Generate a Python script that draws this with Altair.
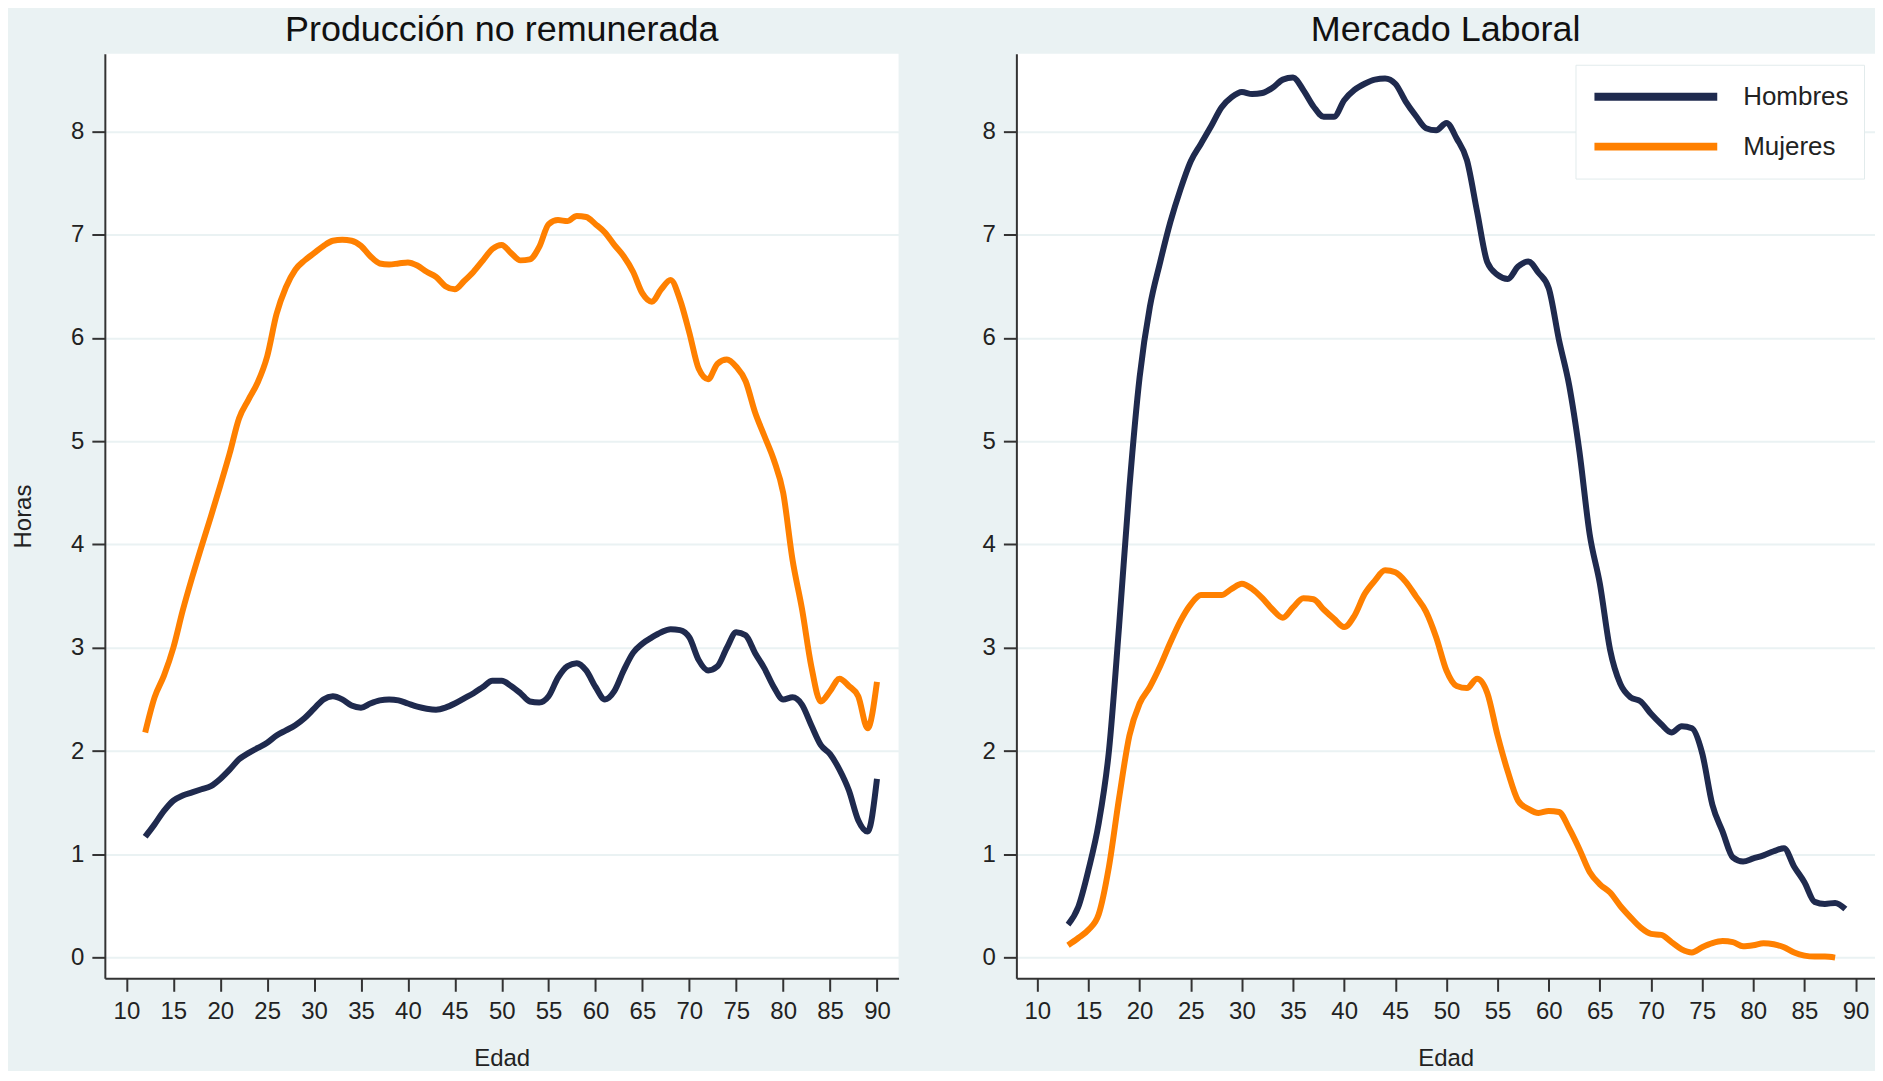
import altair as alt
import pandas as pd

# ---------------- data ----------------
ages_prod = list(range(12, 91))
prod_hombres = [1.17, 1.29, 1.42, 1.52, 1.57, 1.60, 1.63, 1.66, 1.73, 1.82,
                1.92, 1.98, 2.03, 2.08, 2.15, 2.20, 2.25, 2.32, 2.41, 2.50,
                2.53, 2.50, 2.44, 2.42, 2.46, 2.49, 2.50, 2.49, 2.46, 2.43,
                2.41, 2.40, 2.42, 2.46, 2.51, 2.56, 2.62, 2.68, 2.68, 2.63,
                2.56, 2.48, 2.47, 2.53, 2.71, 2.82, 2.85, 2.78, 2.62, 2.50,
                2.58, 2.78, 2.95, 3.04, 3.10, 3.15, 3.18, 3.17, 3.10, 2.88,
                2.78, 2.82, 3.00, 3.15, 3.12, 2.95, 2.80, 2.62, 2.50, 2.52,
                2.45, 2.25, 2.06, 1.97, 1.82, 1.62, 1.33, 1.22, 1.73]
prod_mujeres = [2.18, 2.52, 2.73, 3.00, 3.36, 3.68, 3.98, 4.27, 4.57, 4.88,
                5.22, 5.40, 5.57, 5.82, 6.23, 6.49, 6.66, 6.75, 6.82, 6.89,
                6.94, 6.95, 6.94, 6.89, 6.79, 6.72, 6.71, 6.72, 6.73, 6.70,
                6.64, 6.59, 6.50, 6.47, 6.55, 6.64, 6.75, 6.86, 6.90, 6.82,
                6.75, 6.76, 6.88, 7.10, 7.14, 7.13, 7.18, 7.17, 7.10, 7.02,
                6.90, 6.79, 6.64, 6.43, 6.35, 6.47, 6.56, 6.37, 6.05, 5.70,
                5.60, 5.75, 5.79, 5.72, 5.58, 5.28, 5.05, 4.82, 4.50, 3.85,
                3.38, 2.82, 2.48, 2.58, 2.70, 2.63, 2.53, 2.22, 2.67]

ages_merc_h = list(range(13, 90))
merc_hombres = [0.32, 0.49, 0.85, 1.30, 2.00, 3.22, 4.55, 5.62, 6.30, 6.73,
                7.12, 7.44, 7.71, 7.88, 8.05, 8.23, 8.33, 8.38, 8.36, 8.37,
                8.42, 8.50, 8.52, 8.40, 8.24, 8.14, 8.14, 8.30, 8.40, 8.46,
                8.50, 8.51, 8.46, 8.29, 8.15, 8.03, 8.01, 8.08, 7.93, 7.72,
                7.22, 6.73, 6.61, 6.57, 6.69, 6.74, 6.63, 6.48, 5.98, 5.54,
                4.90, 4.10, 3.62, 2.98, 2.65, 2.52, 2.48, 2.36, 2.26, 2.18,
                2.24, 2.22, 1.98, 1.48, 1.22, 0.97, 0.93, 0.96, 0.99, 1.03,
                1.06, 0.88, 0.73, 0.54, 0.52, 0.53, 0.47]
ages_merc_m = list(range(13, 89))
merc_mujeres = [0.12, 0.19, 0.27, 0.42, 0.88, 1.55, 2.15, 2.46, 2.62, 2.82,
                3.05, 3.26, 3.42, 3.51, 3.51, 3.51, 3.57, 3.62, 3.57, 3.48,
                3.37, 3.29, 3.39, 3.48, 3.47, 3.37, 3.28, 3.20, 3.31, 3.52,
                3.65, 3.75, 3.73, 3.64, 3.50, 3.35, 3.10, 2.78, 2.63, 2.61,
                2.70, 2.56, 2.15, 1.80, 1.52, 1.44, 1.40, 1.42, 1.41, 1.25,
                1.05, 0.83, 0.71, 0.63, 0.50, 0.39, 0.29, 0.23, 0.22, 0.15,
                0.08, 0.05, 0.10, 0.14, 0.16, 0.15, 0.11, 0.12, 0.14, 0.13,
                0.10, 0.05, 0.02, 0.01, 0.01, 0.00]

series_names = ["Hombres", "Mujeres"]
series_colors = ["#1F2A4E", "#FF8000"]
x_ticks = list(range(10, 91, 5))
y_ticks = list(range(0, 9))

titles = ["Producción no remunerada", "Mercado Laboral"]

# ---------------- tables ----------------
df_prod = pd.concat([
    pd.DataFrame({"Edad": ages_prod, "Horas": prod_hombres, "Sexo": "Hombres"}),
    pd.DataFrame({"Edad": ages_prod, "Horas": prod_mujeres, "Sexo": "Mujeres"}),
])
df_merc = pd.concat([
    pd.DataFrame({"Edad": ages_merc_h, "Horas": merc_hombres, "Sexo": "Hombres"}),
    pd.DataFrame({"Edad": ages_merc_m, "Horas": merc_mujeres, "Sexo": "Mujeres"}),
])

FONT = "Liberation Sans"
BG = "#EAF2F3"
AX = "#333333"


def panel(df, title, xdomain, width, ytitle, legend):
    yaxis = dict(values=y_ticks, grid=True, gridColor=BG, gridWidth=2,
                 labelFontSize=24, labelPadding=8, tickSize=13, tickWidth=2,
                 tickColor=AX, domainColor=AX, domainWidth=2,
                 labelColor="#222222", labelFont=FONT)
    if ytitle:
        yaxis.update(title=ytitle, titleFontSize=24, titleFontWeight="normal",
                     titleFont=FONT, titleColor="#222222", titlePadding=35)
    else:
        yaxis.update(title=None)
    return alt.Chart(df).mark_line(strokeWidth=6, interpolate="monotone").encode(
        x=alt.X("Edad:Q",
                scale=alt.Scale(domain=xdomain, nice=False, zero=False),
                axis=alt.Axis(values=x_ticks, grid=False, title="Edad",
                              titleFontSize=24, titleFontWeight="normal",
                              titleFont=FONT, titleColor="#222222",
                              titlePadding=23, labelFontSize=24, labelPadding=8,
                              labelFont=FONT, labelColor="#222222",
                              labelFlush=False, labelOverlap=False,
                              tickSize=13, tickWidth=2, tickColor=AX,
                              domainColor=AX, domainWidth=2)),
        y=alt.Y("Horas:Q",
                scale=alt.Scale(domain=[-0.2, 8.75], nice=False, zero=False),
                axis=alt.Axis(**yaxis)),
        color=alt.Color("Sexo:N",
                        scale=alt.Scale(domain=series_names, range=series_colors),
                        legend=legend),
    ).properties(
        width=width, height=926,
        title=alt.TitleParams(title, fontSize=36, font=FONT, fontWeight="normal",
                              color="#111111", offset=5, anchor="middle"),
    )


legend_r = alt.Legend(
    title=None, orient="none", legendX=560, legendY=11,
    fillColor="white", strokeColor="#E2EBEC", padding=15, symbolOffset=0,
    symbolType="stroke", symbolSize=15129, symbolStrokeWidth=8,
    labelFontSize=26, labelFont=FONT, labelColor="#222222", labelOffset=22,
    clipHeight=34, rowPadding=16,
)

left = panel(df_prod, titles[0], [7.7, 92.3], 795, "Horas", None)
right = panel(df_merc, titles[1], [7.95, 91.9], 860, None, legend_r)

chart = alt.hconcat(left, right, spacing=83).resolve_scale(
    color="independent"
).properties(
    padding={"left": 3, "top": 3, "right": 0, "bottom": 0}
).configure(
    background=BG
).configure_view(
    fill="white", stroke=None
)

chart.save("out.html", embed_options={"renderer": "svg", "actions": False})
